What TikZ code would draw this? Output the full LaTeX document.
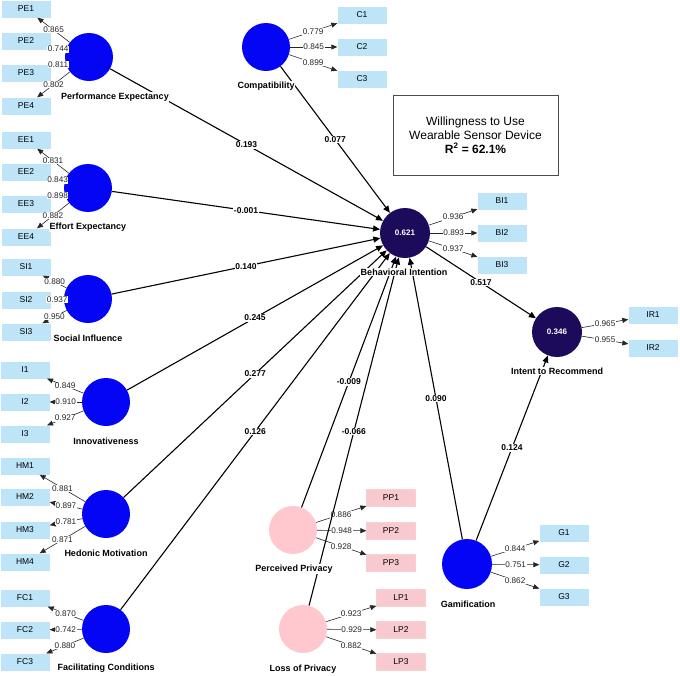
\documentclass[tikz,border=0pt]{standalone}
\usepackage{fontspec}
\setmainfont{Liberation Sans}
\usetikzlibrary{arrows.meta}

\definecolor{indblue}{RGB}{190,228,248}
\definecolor{indpink}{RGB}{248,202,208}
\definecolor{lvblue}{RGB}{5,5,245}
\definecolor{lvnavy}{RGB}{28,10,90}
\definecolor{lvpink}{RGB}{255,200,206}

\tikzset{
  lv/.style={circle, minimum size=48pt, inner sep=0pt, fill=lvblue},
  lvp/.style={lv, fill=lvpink},
  endo/.style={lv, minimum size=50pt, fill=lvnavy, text=white, font=\fontsize{8}{9}\selectfont\bfseries},
  ind/.style={rectangle, minimum width=49pt, minimum height=17pt, inner sep=0pt, fill=indblue, font=\fontsize{8.5}{9}\selectfont},
  indp/.style={ind, fill=indpink, draw=indpink!85!black!60!red!30},
  lvname/.style={fill=white, inner sep=0.5pt, font=\fontsize{9}{10}\selectfont\bfseries},
  loadarrow/.style={-{Triangle[length=6pt,width=5pt]}, line width=0.6pt, black!85},
  struct/.style={-{Triangle[length=7pt,width=6pt]}, line width=1.1pt},
  loadlbl/.style={fill=white, inner sep=0.5pt, text=black!85, font=\fontsize{8.2}{9}\selectfont},
  coef/.style={fill=white, inner sep=0.8pt, font=\fontsize{8.5}{9}\selectfont\bfseries}
}

\begin{document}
\begin{tikzpicture}[x=1pt,y=-1pt]
\useasboundingbox (0,0) rectangle (680,675);

% The constructs
\node[lv] (PE) at (89,57) {};
\node[lv] (EE) at (88,188) {};
\node[lv] (SI) at (88,299) {};
\node[lv] (I) at (106,402) {};
\node[lv] (HM) at (106,514) {};
\node[lv] (FC) at (106,629) {};
\node[lv] (C) at (266,47) {};
\node[endo] (BI) at (405,233) {0.621};
\node[endo] (IR) at (557,332) {0.346};
\node[lvp] (PP) at (293,530) {};
\node[lvp] (LP) at (303,629) {};
\node[lv, minimum size=50pt] (G) at (467,564) {};

% The indicators
\foreach \i/\y in {1/9,2/41,3/73,4/106}
  \node[ind] (PE\i) at (26,\y) {PE\i};
\foreach \i/\y in {1/140,2/172,3/204,4/237}
  \node[ind] (EE\i) at (26,\y) {EE\i};
\foreach \i/\y in {1/267,2/300,3/332}
  \node[ind] (SI\i) at (26,\y) {SI\i};
\foreach \i/\y in {1/370,2/402,3/434}
  \node[ind] (I\i) at (25,\y) {I\i};
\foreach \i/\y in {1/466,2/497,3/530,4/562}
  \node[ind] (HM\i) at (25,\y) {HM\i};
\foreach \i/\y in {1/598,2/630,3/662}
  \node[ind] (FC\i) at (25,\y) {FC\i};
\foreach \i/\y in {1/15,2/47,3/79}
  \node[ind] (C\i) at (362,\y) {C\i};
\foreach \i/\y in {1/201,2/233,3/265}
  \node[ind] (BI\i) at (502,\y) {BI\i};
\foreach \i/\y in {1/315,2/348}
  \node[ind] (IR\i) at (653,\y) {IR\i};
\foreach \i/\y in {1/498,2/531,3/563}
  \node[indp] (PP\i) at (391,\y) {PP\i};
\foreach \i/\y in {1/598,2/630,3/662}
  \node[indp] (LP\i) at (401,\y) {LP\i};
\foreach \i/\y in {1/533,2/565,3/597}
  \node[ind] (G\i) at (564,\y) {G\i};

% The outer loadings
\foreach \i/\w in {1/0.865,2/0.744,3/0.811,4/0.802}
  \draw[loadarrow] (PE) -- (PE\i) node[midway,loadlbl] {\w};
\foreach \i/\w in {1/0.831,2/0.843,3/0.898,4/0.882}
  \draw[loadarrow] (EE) -- (EE\i) node[midway,loadlbl] {\w};
\foreach \i/\w in {1/0.880,2/0.937,3/0.950}
  \draw[loadarrow] (SI) -- (SI\i) node[midway,loadlbl] {\w};
\foreach \i/\w in {1/0.849,2/0.910,3/0.927}
  \draw[loadarrow] (I) -- (I\i) node[midway,loadlbl] {\w};
\foreach \i/\w in {1/0.881,2/0.897,3/0.781,4/0.871}
  \draw[loadarrow] (HM) -- (HM\i) node[midway,loadlbl] {\w};
\foreach \i/\w in {1/0.870,2/0.742,3/0.880}
  \draw[loadarrow] (FC) -- (FC\i) node[midway,loadlbl] {\w};
\foreach \i/\w in {1/0.779,2/0.845,3/0.899}
  \draw[loadarrow] (C) -- (C\i) node[midway,loadlbl] {\w};
\foreach \i/\w in {1/0.936,2/0.893,3/0.937}
  \draw[loadarrow] (BI) -- (BI\i) node[midway,loadlbl] {\w};
\foreach \i/\w in {1/0.965,2/0.955}
  \draw[loadarrow] (IR) -- (IR\i) node[midway,loadlbl] {\w};
\foreach \i/\w in {1/0.886,2/0.948,3/0.928}
  \draw[loadarrow] (PP) -- (PP\i) node[midway,loadlbl] {\w};
\foreach \i/\w in {1/0.923,2/0.929,3/0.882}
  \draw[loadarrow] (LP) -- (LP\i) node[midway,loadlbl] {\w};
\foreach \i/\w in {1/0.844,2/0.751,3/0.862}
  \draw[loadarrow] (G) -- (G\i) node[midway,loadlbl] {\w};

% The path coefficients
\draw[struct] (PE) -- (BI) node[midway,coef] {0.193};
\draw[struct] (C) -- (BI) node[midway,coef] {0.077};
\draw[struct] (EE) -- (BI) node[midway,coef] {-0.001};
\draw[struct] (SI) -- (BI) node[midway,coef] {0.140};
\draw[struct] (I) -- (BI) node[midway,coef] {0.245};
\draw[struct] (HM) -- (BI) node[midway,coef] {0.277};
\draw[struct] (FC) -- (BI) node[midway,coef] {0.126};
\draw[struct] (PP) -- (BI) node[midway,coef] {-0.009};
\draw[struct] (LP) -- (BI) node[midway,coef] {-0.066};
\draw[struct] (G) -- (BI) node[midway,coef] {0.090};
\draw[struct] (BI) -- (IR) node[midway,coef] {0.517};
\draw[struct] (G) -- (IR) node[midway,coef] {0.124};

% The construct names
\node[lvname] (PE-name) at (115,97) {Performance Expectancy};
\node[lvname] (EE-name) at (88,227) {Effort Expectancy};
\node[lvname] (SI-name) at (88,338) {Social Influence};
\node[lvname] (I-name) at (106,441) {Innovativeness};
\node[lvname] (HM-name) at (106,553) {Hedonic Motivation};
\node[lvname] (FC-name) at (106,668) {Facilitating Conditions};
\node[lvname] (C-name) at (266,86) {Compatibility};
\node[lvname] (BI-name) at (404,272) {Behavioral Intention};
\node[lvname] (IR-name) at (557,371) {Intent to Recommend};
\node[lvname] (PP-name) at (294,569) {Perceived Privacy};
\node[lvname] (LP-name) at (303,669) {Loss of Privacy};
\node[lvname] (G-name) at (468,604) {Gamification};

% The R squared box
\node[draw=black!70, line width=0.8pt, minimum width=165pt, minimum height=80pt,
  align=center, font=\fontsize{12}{14}\selectfont] (R2) at (475.5,135)
  {Willingness to Use\\Wearable Sensor Device\\\textbf{R\textsuperscript{2} = 62.1\%}};
\end{tikzpicture}
\end{document}
